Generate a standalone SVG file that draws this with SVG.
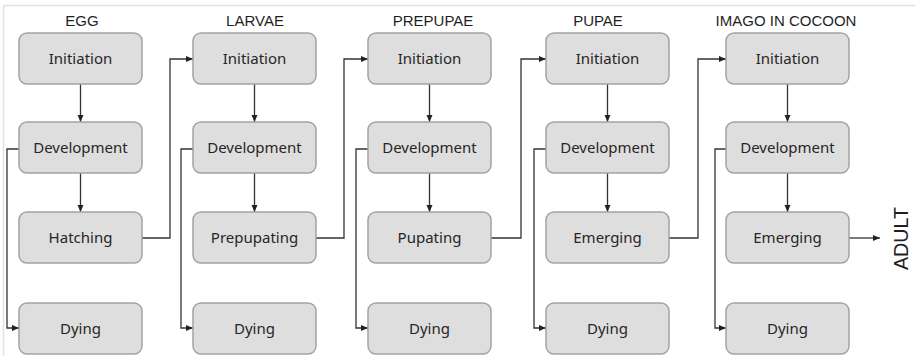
<svg xmlns="http://www.w3.org/2000/svg" width="915" height="356" viewBox="0 0 915 356">
  <style>
    .box { fill: #dedede; stroke: #a3a3a3; stroke-width: 1.5; }
    .lbl { font-family: "Noto Sans", "Open Sans", sans-serif; font-size: 15px; fill: #262626; text-anchor: middle; }
    .hdr { font-family: "Liberation Sans", Arial, sans-serif; font-size: 15px; fill: #1f1f1f; text-anchor: middle; }
    .con { fill: none; stroke: #333333; stroke-width: 1.3; }
  </style>
  <defs>
    <marker id="arr" markerUnits="userSpaceOnUse" markerWidth="8" markerHeight="7" refX="7" refY="3" orient="auto">
      <path d="M0,0 L7,3 L0,6 z" fill="#222222"/>
    </marker>
  </defs>
  <rect x="0" y="0" width="915" height="356" fill="#ffffff"/>
  <path d="M3.5,356 V5.5 H915" fill="none" stroke="#e2e2de" stroke-width="1.5"/>

  <g id="headers">
    <text class="hdr" x="82" y="26">EGG</text>
    <text class="hdr" x="255" y="26">LARVAE</text>
    <text class="hdr" x="433" y="26">PREPUPAE</text>
    <text class="hdr" x="598" y="26">PUPAE</text>
    <text class="hdr" x="786" y="26">IMAGO IN COCOON</text>
  </g>

  <g id="connectors">
    <!-- EGG -->
    <line class="con" x1="80.5" y1="84" x2="80.5" y2="122" marker-end="url(#arr)"/>
    <line class="con" x1="80.5" y1="173" x2="80.5" y2="212" marker-end="url(#arr)"/>
    <path class="con" d="M19,149 H7 V328 H19" marker-end="url(#arr)"/>
    <path class="con" d="M142,238 H170 V59 H193" marker-end="url(#arr)"/>
    <!-- LARVAE -->
    <line class="con" x1="254.5" y1="84" x2="254.5" y2="122" marker-end="url(#arr)"/>
    <line class="con" x1="254.5" y1="173" x2="254.5" y2="212" marker-end="url(#arr)"/>
    <path class="con" d="M193,149 H181 V328 H193" marker-end="url(#arr)"/>
    <path class="con" d="M316,238 H344 V59 H368" marker-end="url(#arr)"/>
    <!-- PREPUPAE -->
    <line class="con" x1="429.5" y1="84" x2="429.5" y2="122" marker-end="url(#arr)"/>
    <line class="con" x1="429.5" y1="173" x2="429.5" y2="212" marker-end="url(#arr)"/>
    <path class="con" d="M368,149 H356 V328 H368" marker-end="url(#arr)"/>
    <path class="con" d="M491,238 H521 V59 H546" marker-end="url(#arr)"/>
    <!-- PUPAE -->
    <line class="con" x1="607.5" y1="84" x2="607.5" y2="122" marker-end="url(#arr)"/>
    <line class="con" x1="607.5" y1="173" x2="607.5" y2="212" marker-end="url(#arr)"/>
    <path class="con" d="M546,149 H534 V328 H546" marker-end="url(#arr)"/>
    <path class="con" d="M669,238 H698 V59 H726" marker-end="url(#arr)"/>
    <!-- IMAGO -->
    <line class="con" x1="787.5" y1="84" x2="787.5" y2="122" marker-end="url(#arr)"/>
    <line class="con" x1="787.5" y1="173" x2="787.5" y2="212" marker-end="url(#arr)"/>
    <path class="con" d="M726,149 H715 V328 H726" marker-end="url(#arr)"/>
    <line class="con" x1="849" y1="238" x2="880" y2="238" marker-end="url(#arr)"/>
  </g>

  <!-- EGG column -->
  <g id="egg-initiation"><rect class="box" x="19" y="33" width="123" height="51" rx="8"/><text class="lbl" x="80.5" y="64">Initiation</text></g>
  <g id="egg-development"><rect class="box" x="19" y="122" width="123" height="51" rx="8"/><text class="lbl" x="80.5" y="153">Development</text></g>
  <g id="egg-hatching"><rect class="box" x="19" y="212" width="123" height="51" rx="8"/><text class="lbl" x="80.5" y="243">Hatching</text></g>
  <g id="egg-dying"><rect class="box" x="19" y="303" width="123" height="51" rx="8"/><text class="lbl" x="80.5" y="334">Dying</text></g>

  <!-- LARVAE column -->
  <g id="larvae-initiation"><rect class="box" x="193" y="33" width="123" height="51" rx="8"/><text class="lbl" x="254.5" y="64">Initiation</text></g>
  <g id="larvae-development"><rect class="box" x="193" y="122" width="123" height="51" rx="8"/><text class="lbl" x="254.5" y="153">Development</text></g>
  <g id="larvae-prepupating"><rect class="box" x="193" y="212" width="123" height="51" rx="8"/><text class="lbl" x="254.5" y="243">Prepupating</text></g>
  <g id="larvae-dying"><rect class="box" x="193" y="303" width="123" height="51" rx="8"/><text class="lbl" x="254.5" y="334">Dying</text></g>

  <!-- PREPUPAE column -->
  <g id="prepupae-initiation"><rect class="box" x="368" y="33" width="123" height="51" rx="8"/><text class="lbl" x="429.5" y="64">Initiation</text></g>
  <g id="prepupae-development"><rect class="box" x="368" y="122" width="123" height="51" rx="8"/><text class="lbl" x="429.5" y="153">Development</text></g>
  <g id="prepupae-pupating"><rect class="box" x="368" y="212" width="123" height="51" rx="8"/><text class="lbl" x="429.5" y="243">Pupating</text></g>
  <g id="prepupae-dying"><rect class="box" x="368" y="303" width="123" height="51" rx="8"/><text class="lbl" x="429.5" y="334">Dying</text></g>

  <!-- PUPAE column -->
  <g id="pupae-initiation"><rect class="box" x="546" y="33" width="123" height="51" rx="8"/><text class="lbl" x="607.5" y="64">Initiation</text></g>
  <g id="pupae-development"><rect class="box" x="546" y="122" width="123" height="51" rx="8"/><text class="lbl" x="607.5" y="153">Development</text></g>
  <g id="pupae-emerging"><rect class="box" x="546" y="212" width="123" height="51" rx="8"/><text class="lbl" x="607.5" y="243">Emerging</text></g>
  <g id="pupae-dying"><rect class="box" x="546" y="303" width="123" height="51" rx="8"/><text class="lbl" x="607.5" y="334">Dying</text></g>

  <!-- IMAGO IN COCOON column -->
  <g id="imago-initiation"><rect class="box" x="726" y="33" width="123" height="51" rx="8"/><text class="lbl" x="787.5" y="64">Initiation</text></g>
  <g id="imago-development"><rect class="box" x="726" y="122" width="123" height="51" rx="8"/><text class="lbl" x="787.5" y="153">Development</text></g>
  <g id="imago-emerging"><rect class="box" x="726" y="212" width="123" height="51" rx="8"/><text class="lbl" x="787.5" y="243">Emerging</text></g>
  <g id="imago-dying"><rect class="box" x="726" y="303" width="123" height="51" rx="8"/><text class="lbl" x="787.5" y="334">Dying</text></g>

  <g id="adult">
    <text x="908" y="238.5" transform="rotate(-90 908 238.5)" font-family="Liberation Sans, Arial, sans-serif" font-size="20" fill="#1f1f1f" text-anchor="middle" textLength="63" lengthAdjust="spacingAndGlyphs">ADULT</text>
  </g>
</svg>
